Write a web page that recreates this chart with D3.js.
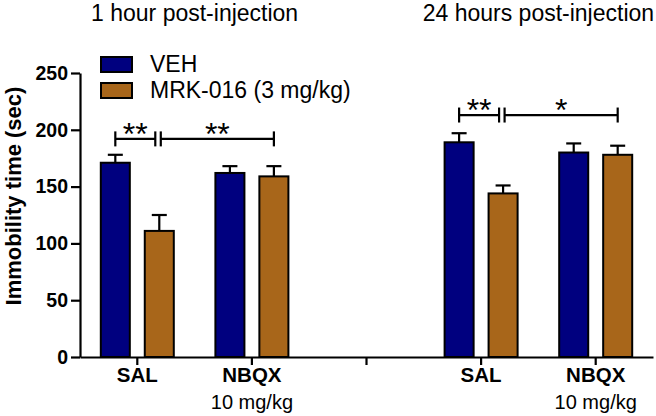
<!DOCTYPE html>
<html>
<head>
<meta charset="utf-8">
<script src="https://cdn.jsdelivr.net/npm/d3@7"></script>
<style>
  html, body { margin: 0; padding: 0; background: #fff; }
  svg { display: block; font-family: "Liberation Sans", Arial, sans-serif; }
</style>
</head>
<body>
<svg id="chart" width="656" height="416"></svg>
<script>
// ---- data ----
const categories = ["SAL|1h", "NBQX|1h", "gap", "SAL|24h", "NBQX|24h"];
const categoryLabels = ["SAL", "NBQX", "", "SAL", "NBQX"];
const categorySubLabels = ["", "10 mg/kg", "", "", "10 mg/kg"];
const series = ["VEH", "MRK-016 (3 mg/kg)"];
const barCategories = ["SAL|1h", "NBQX|1h", "SAL|24h", "NBQX|24h"];
const vehValues = [171, 162, 189, 180];
const vehErrors = [7, 6, 8, 8];
const mrkValues = [111, 159, 144, 178];
const mrkErrors = [14, 9, 7, 8];
const yTicks = [0, 50, 100, 150, 200, 250];
const panelTitles = ["1 hour post-injection", "24 hours post-injection"];
const panelCategories = [["SAL|1h", "NBQX|1h"], ["SAL|24h", "NBQX|24h"]];
// significance brackets: [fromCategory, fromSeries, toCategory, toSeries, level, label]
const sigBrackets = [
  ["SAL|1h", 0, "SAL|1h", 1, 192, "**"],
  ["SAL|1h", 1, "NBQX|1h", 1, 192, "**"],
  ["SAL|24h", 0, "SAL|24h", 1, 213, "**"],
  ["SAL|24h", 1, "NBQX|24h", 1, 213, "*"]
];
const colors = ["#00007f", "#a8661a"];

// ---- layout ----
const svg = d3.select("#chart");
const mLeft = 80, mRight = 653, mTop = 73, mBottom = 357;

const x = d3.scaleBand().domain(categories).range([mLeft, mRight]).padding(0);
const bw = x.bandwidth();
const xs = d3.scaleBand().domain(series).range([bw / 2 - 36.5, bw / 2 + 36.5]).paddingInner(0.34);
const y = d3.scaleLinear().domain([0, 250]).range([mBottom, mTop]);

const bars = [];
barCategories.forEach((c, i) => {
  bars.push({ cat: c, s: series[0], v: vehValues[i], e: vehErrors[i], col: colors[0] });
  bars.push({ cat: c, s: series[1], v: mrkValues[i], e: mrkErrors[i], col: colors[1] });
});

// error bars (behind bars)
const eg = svg.append("g").attr("stroke", "#000").attr("stroke-width", 2.2);
bars.forEach(d => {
  const cx = x(d.cat) + xs(d.s) + xs.bandwidth() / 2;
  eg.append("line").attr("x1", cx).attr("x2", cx).attr("y1", y(d.v)).attr("y2", y(d.v + d.e));
  eg.append("line").attr("x1", cx - 7.5).attr("x2", cx + 7.5).attr("y1", y(d.v + d.e)).attr("y2", y(d.v + d.e));
});

// bars
svg.append("g").selectAll("rect").data(bars).join("rect")
  .attr("x", d => x(d.cat) + xs(d.s))
  .attr("y", d => y(d.v))
  .attr("width", xs.bandwidth())
  .attr("height", d => y(0) - y(d.v))
  .attr("fill", d => d.col)
  .attr("stroke", "#000")
  .attr("stroke-width", 2);

// y axis
const yAxis = svg.append("g").attr("transform", `translate(${mLeft},0)`)
  .call(d3.axisLeft(y).tickValues(yTicks).tickSize(9).tickPadding(3).tickSizeOuter(0));
yAxis.select(".domain").attr("stroke-width", 2.2);
yAxis.selectAll(".tick line").attr("stroke-width", 2.2);
yAxis.selectAll(".tick text").attr("font-size", 19.5).attr("font-weight", "bold")
  .attr("font-family", "Liberation Sans, Arial, sans-serif").attr("fill", "#000");

// x axis
const xAxis = svg.append("g").attr("transform", `translate(0,${mBottom})`)
  .call(d3.axisBottom(x).tickSize(8).tickSizeOuter(0).tickFormat(() => ""));
xAxis.select(".domain").attr("stroke-width", 2.2);
xAxis.selectAll(".tick line").attr("stroke-width", 2.2);

// x labels
categories.forEach((c, i) => {
  const cx = x(c) + bw / 2;
  svg.append("text").attr("x", cx).attr("y", 382).attr("text-anchor", "middle")
    .attr("font-size", 20.5).attr("font-weight", "bold").text(categoryLabels[i]);
  if (categorySubLabels[i]) {
    svg.append("text").attr("x", cx).attr("y", 409).attr("text-anchor", "middle")
      .attr("font-size", 20).text(categorySubLabels[i]);
  }
});

// y label
svg.append("text")
  .attr("transform", `translate(21,196) rotate(-90)`)
  .attr("text-anchor", "middle").attr("font-size", 22).attr("font-weight", "bold")
  .text("Immobility time (sec)");

// panel titles
panelTitles.forEach((t, i) => {
  const [a, b] = panelCategories[i];
  const cx = (x(a) + x(b) + bw) / 2;
  svg.append("text").attr("x", cx).attr("y", 21).attr("text-anchor", "middle")
    .attr("font-size", 23).text(t);
});

// legend
const lg = svg.append("g");
series.forEach((s, i) => {
  lg.append("rect").attr("x", 101).attr("y", 57 + i * 26).attr("width", 31).attr("height", 15)
    .attr("fill", colors[i]).attr("stroke", "#000").attr("stroke-width", 2);
  lg.append("text").attr("x", 150).attr("y", 72 + i * 26).attr("font-size", 23).text(s);
});

// significance brackets
const sg = svg.append("g").attr("stroke", "#000").attr("stroke-width", 2.2);
sigBrackets.forEach(([c1, s1, c2, s2, lvl, lab], i) => {
  let x1 = x(c1) + xs(series[s1]) + xs.bandwidth() / 2;
  let x2 = x(c2) + xs(series[s2]) + xs.bandwidth() / 2;
  if (s1 === 0) x2 -= 4; else x1 += 1.5;
  const yy = y(lvl);
  sg.append("line").attr("x1", x1).attr("x2", x2).attr("y1", yy).attr("y2", yy);
  sg.append("line").attr("x1", x1).attr("x2", x1).attr("y1", yy - 7.5).attr("y2", yy + 7.5);
  sg.append("line").attr("x1", x2).attr("x2", x2).attr("y1", yy - 7.5).attr("y2", yy + 7.5);
  svg.append("text").attr("x", (x1 + x2) / 2).attr("y", yy + 6).attr("text-anchor", "middle")
    .attr("font-size", 32).text(lab);
});
</script>
</body>
</html>
